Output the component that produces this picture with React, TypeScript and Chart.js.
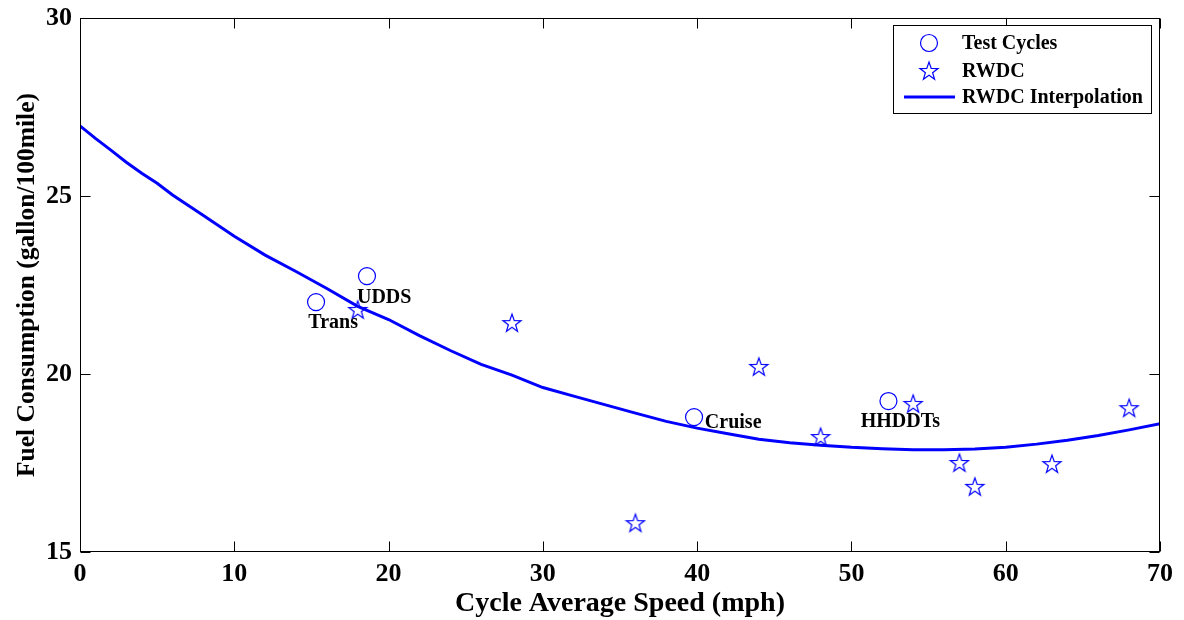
import React, { useEffect, useRef } from "react";
import { Chart, registerables } from "chart.js";

Chart.register(...registerables);

// ---- data ----
const testCycleNames = ["Trans", "UDDS", "Cruise", "HHDDTs"];
const testCycleSpeed = [15.3, 18.6, 39.8, 52.4];
const testCycleFuel = [22.02, 22.75, 18.79, 19.24];
const testLabelSpeed = [14.8, 17.95, 40.5, 50.6];
const testLabelFuel = [21.29, 22.0, 18.48, 18.51];

const rwdcSpeed = [18, 28, 36, 44, 48, 54, 57, 58, 63, 68];
const rwdcFuel = [21.8, 21.43, 15.81, 20.2, 18.23, 19.16, 17.5, 16.83, 17.47, 19.04];

const interpSpeed = [0, 1, 2, 3, 4, 5, 6, 8, 10, 12, 14, 16, 18, 20, 22, 24, 26, 28, 30, 32, 34, 36, 38, 40, 42, 44, 46, 48, 50, 52, 54, 56, 58, 60, 62, 64, 66, 68, 70];
const interpFuel = [26.97, 26.62, 26.29, 25.95, 25.64, 25.36, 25.03, 24.45, 23.87, 23.34, 22.88, 22.4, 21.9, 21.53, 21.08, 20.66, 20.27, 19.97, 19.62, 19.38, 19.14, 18.9, 18.67, 18.48, 18.32, 18.17, 18.07, 18.0, 17.94, 17.9, 17.87, 17.87, 17.89, 17.94, 18.03, 18.14, 18.27, 18.43, 18.6];

const xTicks = [0, 10, 20, 30, 40, 50, 60, 70];
const yTicks = [15, 20, 25, 30];

const legendLabels = ["Test Cycles", "RWDC", "RWDC Interpolation"];

const BLUE = "#0000ff";
const SERIF = '"Liberation Serif", "Times New Roman", serif';

function makeStar(): HTMLCanvasElement {
  const c = document.createElement("canvas");
  c.width = 22;
  c.height = 22;
  const g = c.getContext("2d")!;
  const cx = 11, cy = 11.5, R = 9.5, r = 3.8;
  g.beginPath();
  for (let i = 0; i < 10; i++) {
    const rad = i % 2 === 0 ? R : r;
    const a = -Math.PI / 2 + (i * Math.PI) / 5;
    const px = cx + rad * Math.cos(a);
    const py = cy + rad * Math.sin(a);
    if (i === 0) g.moveTo(px, py);
    else g.lineTo(px, py);
  }
  g.closePath();
  g.strokeStyle = BLUE;
  g.lineWidth = 1.2;
  g.stroke();
  return c;
}

export default function App() {
  const ref = useRef<HTMLCanvasElement | null>(null);

  useEffect(() => {
    const canvas = ref.current!;
    const star = makeStar();

    const decor = {
      id: "decor",
      afterDatasetsDraw(chart: any) {
        const ctx = chart.ctx;
        const xs = chart.scales.x;
        const ys = chart.scales.y;
        ctx.save();
        ctx.fillStyle = "#000";
        ctx.font = `bold 20px ${SERIF}`;
        ctx.textAlign = "left";
        ctx.textBaseline = "alphabetic";
        testCycleNames.forEach((n, i) => {
          ctx.fillText(n, xs.getPixelForValue(testLabelSpeed[i]), ys.getPixelForValue(testLabelFuel[i]));
        });
        ctx.restore();
      },
      afterDraw(chart: any) {
        const ctx = chart.ctx;
        const { left, right, top, bottom } = chart.chartArea;
        const xs = chart.scales.x;
        const ys = chart.scales.y;
        ctx.save();
        ctx.strokeStyle = "#000";
        ctx.lineWidth = 1;
        const L = Math.round(left) + 0.5, R = Math.round(right) - 0.5;
        const T = Math.round(top) + 0.5, B = Math.round(bottom) - 0.5;
        ctx.strokeRect(L, T, R - L, B - T);
        const tl = 10;
        ctx.beginPath();
        xTicks.forEach((v) => {
          const px = Math.round(xs.getPixelForValue(v)) + 0.5;
          ctx.moveTo(px, B);
          ctx.lineTo(px, B - tl);
          ctx.moveTo(px, T);
          ctx.lineTo(px, T + tl);
        });
        yTicks.forEach((v) => {
          const py = Math.round(ys.getPixelForValue(v)) + 0.5;
          ctx.moveTo(L, py);
          ctx.lineTo(L + tl, py);
          ctx.moveTo(R, py);
          ctx.lineTo(R - tl, py);
        });
        ctx.stroke();

        // legend
        const bx = 893.5, by = 25.5, bw = 258, bh = 88;
        ctx.fillStyle = "#fff";
        ctx.fillRect(bx, by, bw, bh);
        ctx.strokeStyle = "#000";
        ctx.strokeRect(bx, by, bw, bh);
        const rows = [43, 71, 97];
        const mx = 929;
        ctx.strokeStyle = BLUE;
        ctx.lineWidth = 1.2;
        ctx.beginPath();
        ctx.arc(mx, rows[0], 8.5, 0, Math.PI * 2);
        ctx.stroke();
        ctx.drawImage(star, mx - 11, rows[1] - 11);
        ctx.lineWidth = 3;
        ctx.beginPath();
        ctx.moveTo(904, rows[2]);
        ctx.lineTo(955, rows[2]);
        ctx.stroke();
        ctx.fillStyle = "#000";
        ctx.font = `bold 20px ${SERIF}`;
        ctx.textAlign = "left";
        ctx.textBaseline = "middle";
        legendLabels.forEach((t, i) => ctx.fillText(t, 962, rows[i] + 1));
        ctx.restore();
      },
    };

    const chart = new Chart(canvas, {
      type: "scatter",
      data: {
        datasets: [
          {
            type: "line",
            label: legendLabels[2],
            data: interpSpeed.map((x, i) => ({ x, y: interpFuel[i] })),
            borderColor: BLUE,
            borderWidth: 3,
            pointRadius: 0,
            tension: 0,
            fill: false,
            order: 3,
          } as any,
          {
            label: legendLabels[0],
            data: testCycleSpeed.map((x, i) => ({ x, y: testCycleFuel[i] })),
            pointStyle: "circle",
            pointRadius: 8.5,
            borderColor: BLUE,
            borderWidth: 1.2,
            backgroundColor: "rgba(0,0,0,0)",
            order: 1,
          },
          {
            label: legendLabels[1],
            data: rwdcSpeed.map((x, i) => ({ x, y: rwdcFuel[i] })),
            pointStyle: star as any,
            pointRadius: 9,
            borderColor: BLUE,
            backgroundColor: "rgba(0,0,0,0)",
            order: 2,
          },
        ],
      },
      options: {
        animation: false,
        responsive: false,
        devicePixelRatio: 1,
        layout: { padding: { left: 0, right: 24, top: 18, bottom: 0 } },
        plugins: { legend: { display: false }, tooltip: { enabled: false } },
        scales: {
          x: {
            type: "linear",
            min: 0,
            max: 70,
            afterBuildTicks: (s: any) => {
              s.ticks = xTicks.map((v) => ({ value: v }));
            },
            afterFit: (s: any) => {
              s.height = 68;
              s.paddingLeft = 0;
              s.paddingRight = 0;
            },
            grid: { display: false, drawTicks: false, tickLength: 0 },
            border: { display: false },
            ticks: {
              color: "#000",
              padding: 7,
              maxRotation: 0,
              font: { family: SERIF, size: 26, weight: "bold" },
            },
            title: {
              display: true,
              text: "Cycle Average Speed (mph)",
              color: "#000",
              font: { family: SERIF, size: 28, weight: "bold", lineHeight: 1.2 },
              padding: { top: 0, bottom: -1 },
            },
          },
          y: {
            type: "linear",
            min: 15,
            max: 30,
            afterBuildTicks: (s: any) => {
              s.ticks = yTicks.map((v) => ({ value: v }));
            },
            afterFit: (s: any) => {
              s.width = 80;
              s.paddingTop = 0;
              s.paddingBottom = 0;
            },
            grid: { display: false, drawTicks: false, tickLength: 0 },
            border: { display: false },
            ticks: {
              color: "#000",
              padding: 8,
              font: { family: SERIF, size: 26, weight: "bold" },
            },
            title: {
              display: true,
              text: "Fuel Consumption (gallon/100mile)",
              color: "#000",
              font: { family: SERIF, size: 25.5, weight: "bold", lineHeight: 1.2 },
              padding: { top: 12, bottom: 0 },
            },
          },
        },
      },
      plugins: [decor],
    } as any);

    return () => chart.destroy();
  }, []);

  return (
    <div style={{ position: "absolute", left: 0, top: 0, width: 1184, height: 620, background: "#fff" }}>
      <canvas ref={ref} width={1184} height={620} style={{ display: "block", width: 1184, height: 620 }} />
    </div>
  );
}
